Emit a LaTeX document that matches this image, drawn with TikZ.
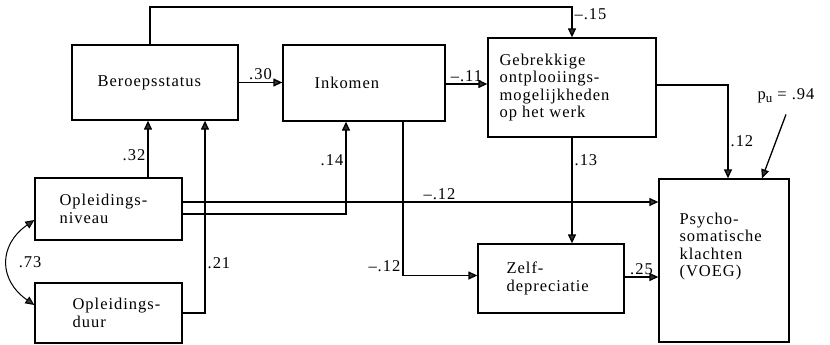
\documentclass[tikz,border=0pt]{standalone}
\usepackage{fontspec}
\setmainfont{Liberation Serif}[LetterSpace=6.0]
\usetikzlibrary{arrows.meta,positioning}

\begin{document}
\begin{tikzpicture}[x=1pt,y=-1pt,
    every node/.style={font=\fontsize{16.5}{17.5}\selectfont, inner sep=2pt},
    box/.style={draw, line width=1.3pt, rectangle},
    txt/.style={align=left, inner sep=0pt},
    arr/.style={-{Triangle[length=9pt,width=8pt,fill=black!80]}, line width=1.3pt},
    arrb/.style={{Triangle[length=9pt,width=8pt,fill=black!80]}-{Triangle[length=9pt,width=8pt,fill=black!80]}, line width=1pt}]
    \useasboundingbox (0,0) rectangle (830,345);

    \node[box, minimum width=166pt, minimum height=75pt] (beroep) at (155,82.5) {};
    \node[txt, right=26pt of beroep.west] (beroep-t) {Beroepsstatus};
    \node[box, minimum width=162pt, minimum height=76pt] (inkomen) at (364,83) {};
    \node[txt, right=32pt of inkomen.west] (inkomen-t) {Inkomen};
    \node[box, minimum width=168pt, minimum height=99pt] (gebrek) at (572,87.5) {};
    \node[txt, right=12pt of gebrek.west] (gebrek-t) {Gebrekkige\\ontplooiings-\\mogelijkheden\\op het werk};
    \node[box, minimum width=147pt, minimum height=62pt] (niveau) at (108.5,209) {};
    \node[txt, right=25pt of niveau.west] (niveau-t) {Opleidings-\\niveau};
    \node[box, minimum width=147pt, minimum height=60pt] (duur) at (108.5,313) {};
    \node[txt, right=38pt of duur.west] (duur-t) {Opleidings-\\duur};
    \node[box, minimum width=146pt, minimum height=69pt] (zelf) at (551,278.5) {};
    \node[txt, right=29pt of zelf.west] (zelf-t) {Zelf-\\depreciatie};
    \node[box, minimum width=130pt, minimum height=163pt] (psy) at (724,260.5) {};
    \node[txt, right=21pt of psy.west, yshift=14pt] (psy-t) {Psycho-\\somatische\\klachten\\(VOEG)};
    \node (pu) at (786,96) {p{\fontsize{13}{13}\selectfont\raisebox{-3pt}{u}} = .94};

    \coordinate (top) at (0,7);
    \draw[arr] ([xshift=-5pt]beroep.north) |- (top -| gebrek.north) -- (gebrek.north)
        node[pos=0.25, right] {--.15};
    \draw[arr] (beroep.east) -- (beroep.east -| inkomen.west) node[midway, above] {.30};
    \draw[arr] ([yshift=-1pt]inkomen.east) -- ([yshift=-1pt]inkomen.east -| gebrek.west)
        node[midway, above] {--.11};
    \draw[arr] ([xshift=39.5pt]niveau.north) -- ([xshift=39.5pt]niveau.north |- beroep.south)
        node[pos=0.4, left] {.32};
    \draw[arr] (duur.east) -| ([xshift=50pt]beroep.south) node[pos=0.63, right] {.21};
    \draw[arr] ([yshift=-5pt]niveau.east) -| ([xshift=-18pt]inkomen.south) node[pos=0.79, left] {.14};
    \draw[arr] ([yshift=7pt]niveau.east) -- ([yshift=7pt]niveau.east -| psy.west)
        node[pos=0.54, above] {--.12};
    \draw[arr] ([xshift=39pt]inkomen.south) |- ([yshift=3pt]zelf.west) node[pos=0.47, left] {--.12};
    \draw[arr] (gebrek.south) -- (gebrek.south |- zelf.north) node[pos=0.21, right] {.13};
    \draw[arr] ([yshift=2.5pt]gebrek.east) -| ([xshift=4pt]psy.north) node[pos=0.8, right] {.12};
    \draw[arr] ([yshift=-9pt]pu.south) -- ([xshift=38pt]psy.north);
    \draw[arr] ([yshift=1.5pt]zelf.east) -- ([yshift=1.5pt]zelf.east -| psy.west) node[midway, above] {.25};
    \draw[arrb] ([yshift=-11pt]niveau.west) .. controls +(-36,25) and +(-36,-25) .. ([yshift=8pt]duur.west)
        node[pos=0.5, anchor=west, xshift=9pt] {.73};
\end{tikzpicture}
\end{document}
